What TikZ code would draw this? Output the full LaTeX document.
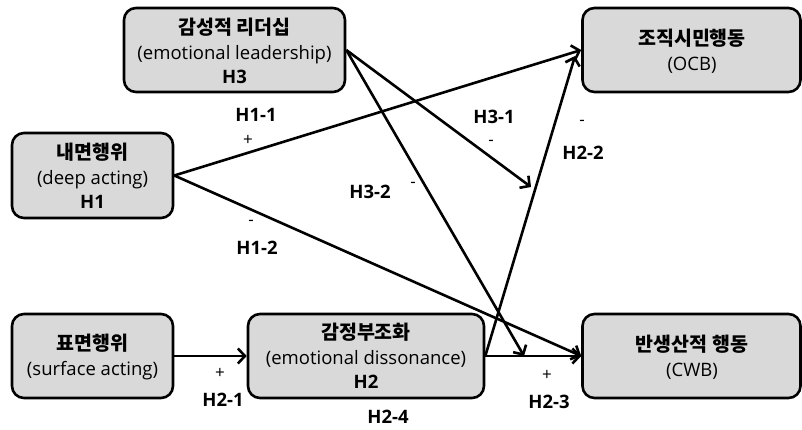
\documentclass[tikz,border=0pt]{standalone}
\usepackage{fontspec}
\setmainfont{Open Sans}
\newfontfamily\kr{Noto Sans CJK KR}
\usetikzlibrary{arrows.meta}
\definecolor{boxgray}{RGB}{217,217,217}
\tikzset{
  box/.style={draw=black, line width=2.6pt, fill=boxgray, rounded corners=12pt,
    align=center, font=\fontsize{18.5}{24.5}\selectfont, inner sep=0pt},
  conn/.style={line width=2.6pt, -{Straight Barb[length=7pt,width=15pt,line width=2.6pt]}},
  lab/.style={font=\fontsize{18.5}{20}\selectfont\bfseries, inner sep=0pt},
  sgn/.style={font=\fontsize{17}{20}\selectfont, inner sep=0pt}
}
\newcommand{\krt}[1]{{\kr\bfseries\fontsize{19.5}{24.5}\selectfont #1}}
\begin{document}
\begin{tikzpicture}[x=1pt,y=-1pt]
\useasboundingbox (0,0) rectangle (802,429);
\node[box, minimum width=221pt, minimum height=84pt] (H3) at (234.5,50) {};
\node[box, minimum width=161pt, minimum height=85pt] (H1) at (92.5,175.5) {};
\node[box, minimum width=161pt, minimum height=84pt] (SA) at (92.5,356) {};
\node[box, minimum width=236pt, minimum height=84pt] (H2) at (366,356) {};
\node[box, minimum width=218pt, minimum height=84pt] (OCB) at (691.5,50) {};
\node[box, minimum width=218pt, minimum height=84pt] (CWB) at (691.5,356) {};
% texts
\node[box, draw=none, fill=none] (tH3) at (234.5,51) {\krt{감성적 리더십}\\(emotional leadership)\\{\bfseries H3}};
\node[box, draw=none, fill=none] (tH1) at (92.5,176) {\krt{내면행위}\\(deep acting)\\{\bfseries H1}};
\node[box, draw=none, fill=none] (tSA) at (92.5,357) {\krt{표면행위}\\(surface acting)};
\node[box, draw=none, fill=none] (tH2) at (366,356) {\krt{감정부조화}\\(emotional dissonance)\\{\bfseries H2}};
\node[box, draw=none, fill=none] (tOCB) at (692,51) {\krt{조직시민행동}\\(OCB)};
\node[box, draw=none, fill=none] (tCWB) at (692,357) {\krt{반생산적 행동}\\(CWB)};
% free ends
\coordinate (m1) at (531,187);
\coordinate (m2) at (524,356);
\coordinate (o2) at (575,56);
% connectors
\draw[conn] (H1.east) -- (OCB.west);
\draw[conn] (H1.east) -- (CWB.west);
\draw[conn] (H3.east) -- (m1);
\draw[conn] (H3.east) -- (m2);
\draw[conn] (H2.east) -- (o2);
\draw[conn] (H2.east) -- (CWB.west);
\draw[conn] (SA.east) -- (H2.west);
% labels
\node[lab] (l11) at (256,115) {H1-1};
\node[sgn] (s11) at (248,140) {+};
\node[lab] (l31) at (494,117) {H3-1};
\node[sgn] (s31) at (491,143) {-};
\node[sgn] (s22) at (582,123) {-};
\node[lab] (l22) at (583,153) {H2-2};
\node[lab] (l32) at (370,192) {H3-2};
\node[sgn] (s32) at (413,185) {-};
\node[sgn] (s12) at (251,223) {-};
\node[lab] (l12) at (257,248) {H1-2};
\node[sgn] (s21) at (220,373) {+};
\node[lab] (l21) at (223,400) {H2-1};
\node[lab] (l24) at (388,417) {H2-4};
\node[sgn] (s23) at (547,375) {+};
\node[lab] (l23) at (549,402) {H2-3};
\end{tikzpicture}
\end{document}
